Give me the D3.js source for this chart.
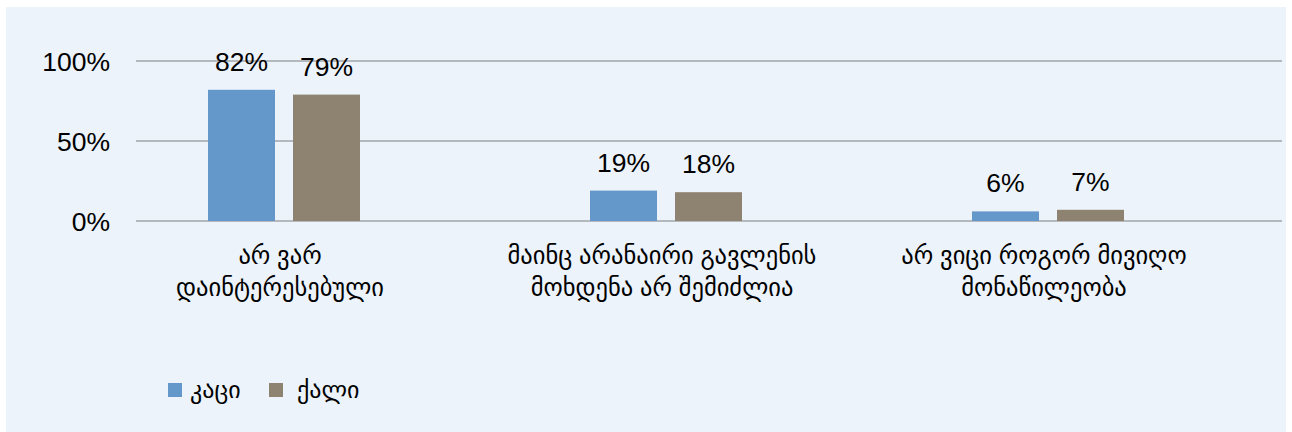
<!DOCTYPE html>
<html>
<head>
<meta charset="utf-8">
<style>
  body { margin: 0; background: #fff; }
  text { font-family: "Liberation Sans", Arial, "DejaVu Sans", sans-serif; fill: #000; }
</style>
</head>
<body>
<svg id="chart" width="1292" height="432"></svg>
<script src="https://cdn.jsdelivr.net/npm/d3@7"></script>
<script>
var categories = [
  ["არ ვარ", "დაინტერესებული"],
  ["მაინც არანაირი გავლენის", "მოხდენა არ შემიძლია"],
  ["არ ვიცი როგორ მივიღო", "მონაწილეობა"]
];
var seriesNames = ["კაცი", "ქალი"];
var menValues = [0.82, 0.19, 0.06];
var womenValues = [0.79, 0.18, 0.07];
var yTicks = [0, 0.5, 1];
var colors = ["#6497CA", "#8E8271"];

var series = [menValues, womenValues];

var svg = d3.select("#chart");

// panel background
svg.append("rect")
  .attr("x", 6).attr("y", 7)
  .attr("width", 1280).attr("height", 425)
  .attr("fill", "#ECF3FA");

var y = d3.scaleLinear().domain([0, 1]).range([221, 61]);

var x0 = d3.scaleBand()
  .domain(d3.range(categories.length))
  .range([93, 1239]);

var x1 = d3.scaleBand()
  .domain(d3.range(seriesNames.length))
  .range([0, 152])
  .paddingInner(0.212);

// gridlines + tick labels
var grid = svg.append("g");
grid.selectAll("line")
  .data(yTicks)
  .enter().append("line")
  .attr("x1", 136).attr("x2", 1282)
  .attr("y1", function (d) { return y(d); })
  .attr("y2", function (d) { return y(d); })
  .attr("stroke", "#A3A6AA")
  .attr("stroke-width", 1.3);

grid.selectAll("text")
  .data(yTicks)
  .enter().append("text")
  .attr("x", 110)
  .attr("y", function (d) { return y(d); })
  .attr("dy", "0.38em")
  .attr("text-anchor", "end")
  .style("font-size", "26.5px")
  .text(function (d) { return Math.round(d * 100) + "%"; });

// bars
var groups = svg.append("g").selectAll("g")
  .data(categories)
  .enter().append("g")
  .attr("transform", function (d, i) {
    return "translate(" + (x0(i) + x0.bandwidth() / 2 - 76) + ",0)";
  });

groups.selectAll("rect")
  .data(function (d, i) { return series.map(function (s) { return s[i]; }); })
  .enter().append("rect")
  .attr("x", function (d, j) { return x1(j); })
  .attr("y", function (d) { return y(d); })
  .attr("width", x1.bandwidth())
  .attr("height", function (d) { return y(0) - y(d); })
  .attr("fill", function (d, j) { return colors[j]; });

groups.selectAll("text.val")
  .data(function (d, i) { return series.map(function (s) { return s[i]; }); })
  .enter().append("text")
  .attr("class", "val")
  .attr("x", function (d, j) { return x1(j) + x1.bandwidth() / 2; })
  .attr("y", function (d) { return y(d) - 19; })
  .attr("text-anchor", "middle")
  .style("font-size", "26.5px")
  .text(function (d) { return Math.round(d * 100) + "%"; });

// category labels
var labels = svg.append("g").selectAll("text")
  .data(categories)
  .enter().append("text")
  .attr("x", function (d, i) { return x0(i) + x0.bandwidth() / 2 - 4; })
  .attr("y", 264)
  .attr("text-anchor", "middle")
  .style("font-size", "24.5px");

labels.selectAll("tspan")
  .data(function (d) { return d; })
  .enter().append("tspan")
  .attr("x", function () { return d3.select(this.parentNode).attr("x"); })
  .attr("dy", function (d, k) { return k === 0 ? 0 : 32; })
  .text(function (d) { return d; });

// legend
var legendX = [168, 269];
var legend = svg.append("g").selectAll("g")
  .data(seriesNames)
  .enter().append("g")
  .attr("transform", function (d, i) { return "translate(" + legendX[i] + ",383)"; });

legend.append("rect")
  .attr("width", 14).attr("height", 14)
  .attr("fill", function (d, i) { return colors[i]; });

legend.append("text")
  .attr("x", function (d, i) { return i === 0 ? 22 : 28; })
  .attr("y", 7)
  .attr("dy", "0.35em")
  .style("font-size", "24px")
  .text(function (d) { return d; });
</script>
</body>
</html>
